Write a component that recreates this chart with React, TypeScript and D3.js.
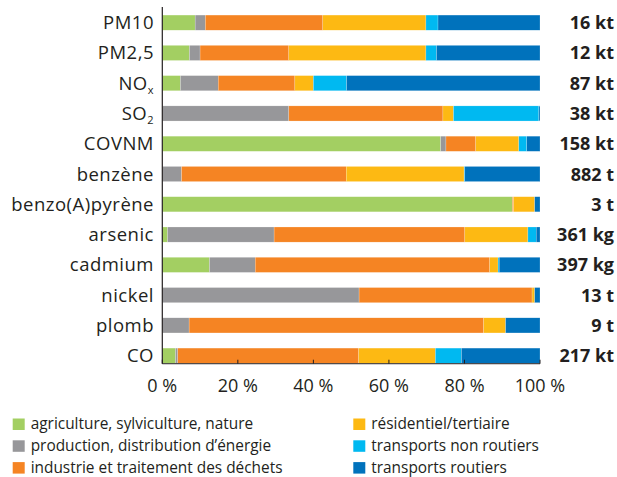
import React from 'react';
import * as d3 from 'd3';

const pollutants = ["PM10", "PM2,5", "NOx", "SO2", "COVNM", "benzène", "benzo(A)pyrène", "arsenic", "cadmium", "nickel", "plomb", "CO"];
const totals = ["16 kt", "12 kt", "87 kt", "38 kt", "158 kt", "882 t", "3 t", "361 kg", "397 kg", "13 t", "9 t", "217 kt"];

// parts in % for each sector
const agriculture = [8.7, 7.2, 4.8, 0, 73.7, 0, 92.7, 1.4, 12.5, 0, 0, 3.5];
const energie = [2.7, 2.8, 10, 33.5, 1.4, 5.1, 0, 28.2, 12.1, 52.1, 7.1, 0.6];
const industrie = [31.1, 23.5, 20.3, 40.8, 7.9, 43.6, 0.3, 50.5, 62.1, 45.8, 78, 47.9];
const residentiel = [27.3, 36.3, 4.9, 2.8, 11.4, 31.2, 5.6, 16.7, 2.2, 0.7, 5.8, 20.3];
const nonRoutiers = [3.2, 2.8, 8.8, 22.6, 2.1, 0.2, 0, 2.2, 0.3, 0, 0, 6.9];
const routiers = [27.0, 27.4, 51.2, 0.3, 3.5, 19.9, 1.4, 1.0, 10.8, 1.4, 9.1, 20.8];

const sectorNames = [
  "agriculture, sylviculture, nature",
  "production, distribution d’énergie",
  "industrie et traitement des déchets",
  "résidentiel/tertiaire",
  "transports non routiers",
  "transports routiers",
];
const sectorColors = ["#a3cf62", "#97979a", "#f58423", "#fdb913", "#00b9f1", "#0072bc"];
const xTicks = [0, 20, 40, 60, 80, 100];

const W = 617;
const H = 477;
const FONT = "'Open Sans', sans-serif";
const INK = "#231f20";

export default function App() {
  const series = [agriculture, energie, industrie, residentiel, nonRoutiers, routiers];
  const rows = pollutants.map((p, i) => {
    const row: Record<string, number | string> = { name: p };
    series.forEach((s, k) => (row["s" + k] = s[i]));
    return row;
  });
  const keys = series.map((_, k) => "s" + k);
  const stacked = d3.stack<any>().keys(keys)(rows);

  const x = d3.scaleLinear().domain([0, 100]).range([162.3, 540]);
  const y = d3.scaleBand<string>()
    .domain(pollutants)
    .range([7.5, 370.8])
    .paddingInner(0.5)
    .paddingOuter(0.25);
  const bw = y.bandwidth();
  const axisY = (y("CO") as number) + bw + 0.5;

  const label = (p: string) => {
    if (p === "NOx") return <>NO<tspan fontSize={11} dy={4}>x</tspan></>;
    if (p === "SO2") return <>SO<tspan fontSize={11} dy={4}>2</tspan></>;
    return p;
  };

  return (
    <svg width={W} height={H} style={{ position: 'absolute', left: 0, top: 0, background: '#fff' }} fontFamily={FONT}>
      {stacked.map((layer, k) => (
        <g key={k} fill={sectorColors[k]}>
          {layer.map((d, i) => (
            <rect
              key={i}
              x={x(d[0])}
              y={y(pollutants[i])}
              width={Math.max(0, x(d[1]) - x(d[0]))}
              height={bw}
              stroke="#fff"
              strokeOpacity={0.5}
              strokeWidth={0.4}
            />
          ))}
        </g>
      ))}

      {/* axes */}
      <line x1={x(0)} x2={x(0)} y1={7} y2={axisY} stroke={INK} strokeWidth={1.2} />
      <line x1={x(0)} x2={x(100)} y1={axisY} y2={axisY} stroke={INK} strokeWidth={1} />
      {xTicks.map(t => (
        <g key={t}>
          <line x1={x(t)} x2={x(t)} y1={axisY - 4} y2={axisY} stroke={INK} strokeWidth={1} />
          <text x={x(t)} y={391.5} textAnchor="middle" fontSize={18} fill={INK}>{t} %</text>
        </g>
      ))}

      {/* category labels */}
      {pollutants.map(p => (
        <text key={p} x={154} y={(y(p) as number) + bw / 2 + 6.5} textAnchor="end" fontSize={18.5} letterSpacing={0.5} fill={INK}>
          {label(p)}
        </text>
      ))}

      {/* totals */}
      {pollutants.map((p, i) => (
        <text key={p} x={614} y={(y(p) as number) + bw / 2 + 6.5} textAnchor="end" fontSize={18} fontWeight="bold" fill={INK}>
          {totals[i]}
        </text>
      ))}

      {/* legend */}
      {sectorNames.map((n, k) => {
        const col = Math.floor(k / 3);
        const r = k % 3;
        const lx = col === 0 ? 12.7 : 353.3;
        const ly = 418.5 + r * 21.8;
        return (
          <g key={n}>
            <rect x={lx} y={ly} width={12} height={11.5} fill={sectorColors[k]} />
            <text x={lx + 18} y={ly + 10.8} fontSize={15.4} fill={INK}>{n}</text>
          </g>
        );
      })}
    </svg>
  );
}
